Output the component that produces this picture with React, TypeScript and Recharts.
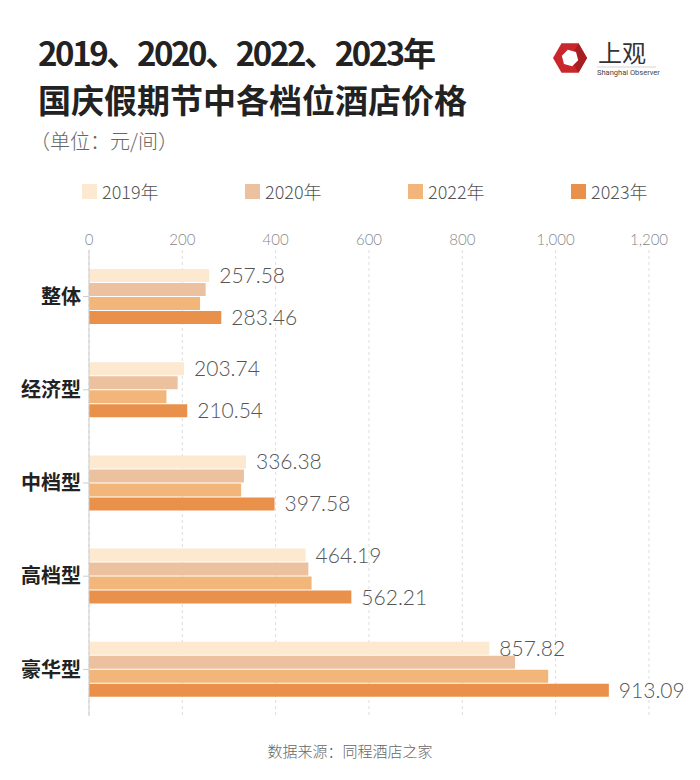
import { BarChart, Bar, XAxis, YAxis, CartesianGrid, LabelList } from 'recharts'

// ─── Data ─────────────────────────────────────────────────────────────────────

const categories = ['整体', '经济型', '中档型', '高档型', '豪华型']
const v2019 = [257.58, 203.74, 336.38, 464.19, 857.82]
const v2020 = [250, 190, 332, 470, 913]
const v2022 = [238, 166, 326, 477, 984]
const v2023 = [283.46, 210.54, 397.58, 562.21, 1114]
const labels2019 = ['257.58', '203.74', '336.38', '464.19', '857.82']
const labels2023 = ['283.46', '210.54', '397.58', '562.21', '913.09']
const xTicks = [0, 200, 400, 600, 800, 1000, 1200]
const years = ['2019年', '2020年', '2022年', '2023年']

// ─── Style ────────────────────────────────────────────────────────────────────

const COLORS = ['#FCE9CF', '#EBC1A0', '#F2B67A', '#E9914A']
const CJK = '"Noto Sans CJK SC", "Noto Sans", sans-serif'
const THIN = 'Lato, "Noto Sans", sans-serif'

const data = categories.map((c, i) => ({
  name: c,
  y2019: v2019[i],
  y2020: v2020[i],
  y2022: v2022[i],
  y2023: v2023[i],
  l2019: labels2019[i],
  l2023: labels2023[i],
}))

const LABEL_STYLE = { fill: '#555', fontSize: 21, fontFamily: THIN, fontWeight: 300 }

function Logo() {
  const hex = (cx: number, cy: number, r: number, rot: number) =>
    Array.from({ length: 6 }, (_, k) => {
      const a = ((k * 60 + rot) * Math.PI) / 180
      return `${cx + r * Math.cos(a)},${cy + r * Math.sin(a)}`
    }).join(' ')
  return (
    <svg width={130} height={60} style={{ position: 'absolute', left: 540, top: 30 }}>
      <polygon points={hex(30, 28, 17, 0)} fill="#C9272C" />
      <polygon points={`30,28 ${hex(30, 28, 17, 0).split(' ').slice(5).join(' ')} ${hex(30, 28, 17, 0).split(' ')[0]} ${hex(30, 28, 17, 0).split(' ')[1]}`} fill="#A81E22" />
      <polygon points={hex(30, 28, 8.5, 15)} fill="#fff" />
      <text x={58} y={32} fontSize={24} fontFamily={CJK} fill="#333">上观</text>
      <line x1={57} x2={116} y1={37} y2={37} stroke="#bbb" strokeWidth={0.6} />
      <text x={57} y={45} fontSize={7.5} fontFamily="Roboto, sans-serif" fill="#444">Shanghai Observer</text>
    </svg>
  )
}

export default function App() {
  return (
    <div style={{ position: 'absolute', left: 0, top: 0, width: 700, height: 780, background: '#fff', overflow: 'hidden' }}>
      <div style={{ position: 'absolute', left: 38, top: 29, fontFamily: CJK, fontWeight: 700, fontSize: 33, lineHeight: '47px', color: '#222' }}>
        <div style={{ letterSpacing: -2.4 }}>2019、2020、2022、2023年</div>
        <div>国庆假期节中各档位酒店价格</div>
      </div>
      <div style={{ position: 'absolute', left: 30, top: 126, fontFamily: CJK, fontWeight: 300, fontSize: 20, color: '#666' }}>
        （单位：元/间）
      </div>
      <Logo />

      <div style={{ position: 'absolute', left: 82, top: 178, display: 'flex', fontFamily: CJK, fontWeight: 300, fontSize: 18, color: '#555' }}>
        {years.map((y, i) => (
          <div key={y} style={{ display: 'flex', alignItems: 'center', width: 163 }}>
            <span style={{ width: 15, height: 15, background: COLORS[i], marginRight: 5 }} />
            <span>{y}</span>
          </div>
        ))}
      </div>

      <div style={{ position: 'absolute', left: 0, top: 0 }}>
        <BarChart
          width={700}
          height={780}
          data={data}
          layout="vertical"
          margin={{ top: 220, right: 51, bottom: 64, left: 0 }}
          barSize={13}
          barGap={1}
        >
          <CartesianGrid horizontal={false} stroke="#ddd" strokeDasharray="3 3" />
          <XAxis
            type="number"
            orientation="top"
            domain={[0, 1200]}
            ticks={xTicks}
            height={30}
            axisLine={false}
            tickLine={false}
            tickSize={3}
            tickFormatter={(v: number) => v.toLocaleString('en-US')}
            tick={{ fill: '#888', fontSize: 15, fontFamily: THIN, fontWeight: 300 }}
          />
          <YAxis
            type="category"
            dataKey="name"
            width={89}
            axisLine={{ stroke: '#ccc' }}
            tickLine={{ stroke: '#ccc' }}
            tick={{ fill: '#222', fontSize: 20, fontFamily: CJK, fontWeight: 700 }}
          />
          <Bar dataKey="y2019" fill={COLORS[0]} isAnimationActive={false}>
            <LabelList dataKey="l2019" position="right" offset={10} style={LABEL_STYLE} />
          </Bar>
          <Bar dataKey="y2020" fill={COLORS[1]} isAnimationActive={false} />
          <Bar dataKey="y2022" fill={COLORS[2]} isAnimationActive={false} />
          <Bar dataKey="y2023" fill={COLORS[3]} isAnimationActive={false}>
            <LabelList dataKey="l2023" position="right" offset={10} style={LABEL_STYLE} />
          </Bar>
        </BarChart>
      </div>

      <div style={{ position: 'absolute', left: 0, width: 700, top: 740, textAlign: 'center', fontFamily: CJK, fontWeight: 300, fontSize: 15, color: '#666' }}>
        数据来源：同程酒店之家
      </div>
    </div>
  )
}
